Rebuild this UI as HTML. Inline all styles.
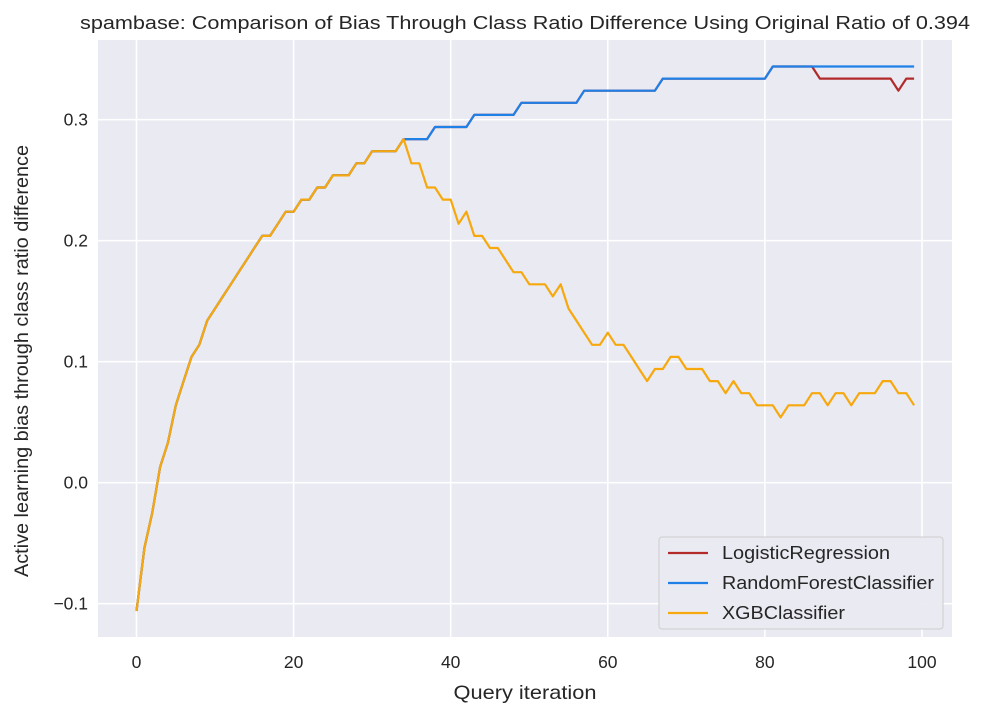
<!DOCTYPE html>
<html><head><meta charset="utf-8"><style>
body{margin:0;background:#fff;}
svg text{font-family:"Liberation Sans",Arial,sans-serif;fill:#262626;}
</style></head><body>
<svg id="chart" width="984" height="716" viewBox="0 0 984 716" xmlns="http://www.w3.org/2000/svg">
<rect x="98" y="40" width="854" height="597" fill="#eaeaf2"/>
<g id="grid"></g>
<g id="series"></g>
<g id="ticks"></g>
<text x="525" y="29" font-size="18" text-anchor="middle" textLength="890" lengthAdjust="spacingAndGlyphs">spambase: Comparison of Bias Through Class Ratio Difference Using Original Ratio of 0.394</text>
<text x="525" y="699" font-size="19.5" text-anchor="middle" textLength="143" lengthAdjust="spacingAndGlyphs">Query iteration</text>
<text transform="translate(28,361) rotate(-90)" font-size="19.5" text-anchor="middle" textLength="432" lengthAdjust="spacingAndGlyphs">Active learning bias through class ratio difference</text>
<g>
<rect x="659" y="537" width="284" height="92" rx="3" fill="#eaeaf2" stroke="#cccccc" stroke-width="1" opacity="0.95"/>
<g><line x1="668" y1="553" x2="708" y2="553" stroke="#b22a2a" stroke-width="2.2"/><text x="722" y="559" font-size="18" textLength="168" lengthAdjust="spacingAndGlyphs">LogisticRegression</text></g>
<g><line x1="668" y1="583" x2="708" y2="583" stroke="#1f80e8" stroke-width="2.2"/><text x="722" y="589" font-size="18" textLength="212" lengthAdjust="spacingAndGlyphs">RandomForestClassifier</text></g>
<g><line x1="668" y1="613" x2="708" y2="613" stroke="#f6a80d" stroke-width="2.2"/><text x="722" y="619" font-size="18" textLength="123" lengthAdjust="spacingAndGlyphs">XGBClassifier</text></g>
</g>
</svg>
<script>
const common = [-0.106,-0.054,-0.025,0.013,0.033,0.064,0.084,0.104,0.114,0.134,0.144,0.154,0.164,0.174,0.184,0.194,0.204,0.204,0.214,0.224,0.224,0.234,0.234,0.244,0.244,0.254,0.254,0.254,0.264,0.264,0.274,0.274,0.274,0.274,0.284];
const rfTail = [0.284,0.284,0.284,0.294,0.294,0.294,0.294,0.294,0.304,0.304,0.304,0.304,0.304,0.304,0.314,0.314,0.314,0.314,0.314,0.314,0.314,0.314,0.324,0.324,0.324,0.324,0.324,0.324,0.324,0.324,0.324,0.324,0.334,0.334,0.334,0.334,0.334,0.334,0.334,0.334,0.334,0.334,0.334,0.334,0.334,0.334,0.344,0.344,0.344,0.344,0.344,0.344,0.344,0.344,0.344,0.344,0.344,0.344,0.344,0.344,0.344,0.344,0.344,0.344,0.344];
const lrTail = [0.284,0.284,0.284,0.294,0.294,0.294,0.294,0.294,0.304,0.304,0.304,0.304,0.304,0.304,0.314,0.314,0.314,0.314,0.314,0.314,0.314,0.314,0.324,0.324,0.324,0.324,0.324,0.324,0.324,0.324,0.324,0.324,0.334,0.334,0.334,0.334,0.334,0.334,0.334,0.334,0.334,0.334,0.334,0.334,0.334,0.334,0.344,0.344,0.344,0.344,0.344,0.344,0.334,0.334,0.334,0.334,0.334,0.334,0.334,0.334,0.334,0.334,0.324,0.334,0.334];
const xgbTail = [0.264,0.264,0.244,0.244,0.234,0.234,0.214,0.224,0.204,0.204,0.194,0.194,0.184,0.174,0.174,0.164,0.164,0.164,0.154,0.164,0.144,0.134,0.124,0.114,0.114,0.124,0.114,0.114,0.104,0.094,0.084,0.094,0.094,0.104,0.104,0.094,0.094,0.094,0.084,0.084,0.074,0.084,0.074,0.074,0.064,0.064,0.064,0.054,0.064,0.064,0.064,0.074,0.074,0.064,0.074,0.074,0.064,0.074,0.074,0.074,0.084,0.084,0.074,0.074,0.064];
const xTicks = [0,20,40,60,80,100];
const yTicks = [-0.1,0.0,0.1,0.2,0.3];
const yTickLabels = ["\u22120.1","0.0","0.1","0.2","0.3"];

const X = i => 136.5 + 7.855*i;
const Y = v => 482.7 - 1210*v;
const NS = "http://www.w3.org/2000/svg";
const grid = document.getElementById('grid'), ticks = document.getElementById('ticks'), ser = document.getElementById('series');
function mk(tag, attrs, parent){const e=document.createElementNS(NS,tag);for(const k in attrs)e.setAttribute(k,attrs[k]);parent.appendChild(e);return e;}
xTicks.forEach(t=>{
  const l = mk('line',{x1:X(t),x2:X(t),y1:40,y2:637,stroke:'#fff','stroke-width':1.6},grid);
  
  
  const tx = mk('text',{x:X(t),y:668,'font-size':17.5,'text-anchor':'middle'},ticks);
  tx.textContent = t;
  
  
});
yTicks.forEach((t,k)=>{
  const l = mk('line',{x1:98,x2:952,y1:Y(t),y2:Y(t),stroke:'#fff','stroke-width':1.6},grid);
  
  
  const tx = mk('text',{x:88,y:Y(t)+6,'font-size':17.5,'text-anchor':'end'},ticks);
  tx.textContent = yTickLabels[k];
  
  
});
function line(vals,color,name){
  const pts = vals.map((v,i)=>X(i).toFixed(1)+','+Y(v).toFixed(1)).join(' ');
  const p = mk('polyline',{points:pts,fill:'none',stroke:color,'stroke-width':2.2,'stroke-linejoin':'round'},ser);
  
  
}
line(common.concat(lrTail),'#b22a2a','logisticregression-line');
line(common.concat(rfTail),'#1f80e8','randomforest-line');
line(common.concat(xgbTail),'#f6a80d','xgbclassifier-line');
</script>
</body></html>
